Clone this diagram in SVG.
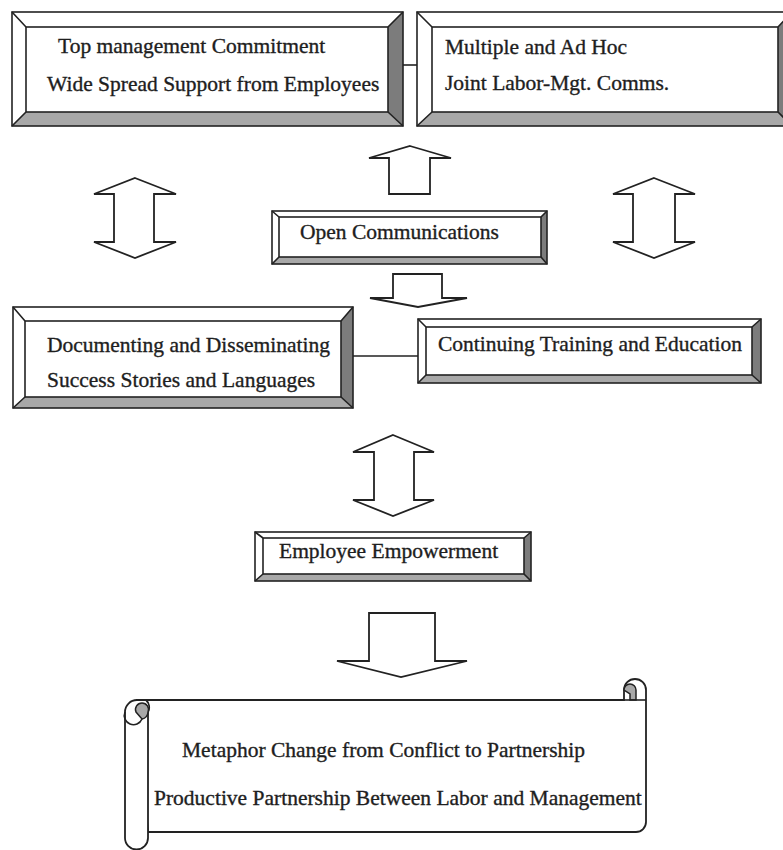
<svg xmlns="http://www.w3.org/2000/svg" width="783" height="850" viewBox="0 0 783 850">
  <style>
    .face { fill: #ffffff; stroke: #222; stroke-width: 1.6; }
    .lite { fill: #ffffff; }
    .dark { fill: #7c7c7c; }
    .mid { fill: #a8a8a8; }
    .edge { fill: none; stroke: #222; stroke-width: 1.6; }
    .txt { font-family: "Liberation Serif", "Times New Roman", serif; font-size: 21.5px; fill: #1e1e1e; stroke: #1e1e1e; stroke-width: 0.35; }
    .arrow { fill: #ffffff; stroke: #222; stroke-width: 1.8; stroke-linejoin: miter; }
    .link { stroke: #222; stroke-width: 1.6; fill: none; }
    .scroll { fill: #ffffff; stroke: #222; stroke-width: 1.8; }
    .curl { fill: #a8a8a8; stroke: #222; stroke-width: 1.5; }
  </style>

  <rect width="783" height="850" fill="#ffffff"/>

  <!-- connectors: plain links and block arrows -->
  <g id="connectors">
    <line class="link" x1="403" y1="65" x2="417" y2="65"/>
    <line class="link" x1="353" y1="356" x2="418" y2="356"/>
    <!-- up arrow into the top row -->
    <polygon class="arrow" points="410,146 451,158 430,158 430,194 389,194 389,158 369,158"/>
    <!-- side double arrows -->
    <polygon class="arrow" points="135,178 176,194 154,194 154,242 176,242 135,258 94,242 114,242 114,194 94,194"/>
    <polygon class="arrow" points="654,178 695,194 675,194 675,242 695,242 654,258 613,242 633,242 633,194 613,194"/>
    <!-- down arrow from Open Communications -->
    <polygon class="arrow" points="393,274 442,274 442,298 467,298 418,307 370,298 393,298"/>
    <!-- double arrow above Employee Empowerment -->
    <polygon class="arrow" points="393,435 434,452 414,452 414,500 434,500 393,516 353,500 374,500 374,452 353,452"/>
    <!-- down arrow to the scroll -->
    <polygon class="arrow" points="369,613 435,613 435,661 467,661 401,677 337,661 369,661"/>
  </g>

  <!-- Top management box -->
  <g id="top-management">
    <polygon class="lite" points="12,12 403,12 388,27 26,27"/>
    <polygon class="lite" points="12,12 26,27 26,112 12,126"/>
    <polygon class="dark" points="403,12 403,126 388,112 388,27"/>
    <polygon class="mid" points="12,126 403,126 388,112 26,112"/>
    <rect class="face" x="26" y="27" width="362" height="85"/>
    <rect class="edge" x="12" y="12" width="391" height="114"/>
    <path class="edge" d="M12,12 L26,27 M403,12 L388,27 M12,126 L26,112 M403,126 L388,112"/>
    <text class="txt" x="58" y="53">Top management Commitment</text>
    <text class="txt" x="47" y="91">Wide Spread Support from Employees</text>
  </g>

  <!-- Joint committees box -->
  <g id="joint-committees">
    <polygon class="lite" points="417,12 792,12 778,27 432,27"/>
    <polygon class="lite" points="417,12 432,27 432,112 417,126"/>
    <polygon class="dark" points="792,12 792,126 778,112 778,27"/>
    <polygon class="mid" points="417,126 792,126 778,112 432,112"/>
    <rect class="face" x="432" y="27" width="346" height="85"/>
    <rect class="edge" x="417" y="12" width="375" height="114"/>
    <path class="edge" d="M417,12 L432,27 M792,12 L778,27 M417,126 L432,112 M792,126 L778,112"/>
    <text class="txt" x="445" y="54">Multiple and Ad Hoc</text>
    <text class="txt" x="445" y="90">Joint Labor-Mgt. Comms.</text>
  </g>

  <!-- Open Communications box -->
  <g id="open-communications">
    <polygon class="lite" points="272,211 547,211 541,217 279,217"/>
    <polygon class="lite" points="272,211 279,217 279,257 272,264"/>
    <polygon class="dark" points="547,211 547,264 541,257 541,217"/>
    <polygon class="mid" points="272,264 547,264 541,257 279,257"/>
    <rect class="face" x="279" y="217" width="262" height="40"/>
    <rect class="edge" x="272" y="211" width="275" height="53"/>
    <path class="edge" d="M272,211 L279,217 M547,211 L541,217 M272,264 L279,257 M547,264 L541,257"/>
    <text class="txt" x="300" y="239">Open Communications</text>
  </g>

  <!-- Documenting box -->
  <g id="documenting">
    <polygon class="lite" points="13,307 353,307 341,321 25,321"/>
    <polygon class="lite" points="13,307 25,321 25,397 13,408"/>
    <polygon class="dark" points="353,307 353,408 341,397 341,321"/>
    <polygon class="mid" points="13,408 353,408 341,397 25,397"/>
    <rect class="face" x="25" y="321" width="316" height="76"/>
    <rect class="edge" x="13" y="307" width="340" height="101"/>
    <path class="edge" d="M13,307 L25,321 M353,307 L341,321 M13,408 L25,397 M353,408 L341,397"/>
    <text class="txt" x="47" y="352">Documenting and Disseminating</text>
    <text class="txt" x="47" y="387">Success Stories and Languages</text>
  </g>

  <!-- Continuing Training box -->
  <g id="continuing-training">
    <polygon class="lite" points="418,319 761,319 752,327 426,327"/>
    <polygon class="lite" points="418,319 426,327 426,375 418,383"/>
    <polygon class="dark" points="761,319 761,383 752,375 752,327"/>
    <polygon class="mid" points="418,383 761,383 752,375 426,375"/>
    <rect class="face" x="426" y="327" width="326" height="48"/>
    <rect class="edge" x="418" y="319" width="343" height="64"/>
    <path class="edge" d="M418,319 L426,327 M761,319 L752,327 M418,383 L426,375 M761,383 L752,375"/>
    <text class="txt" x="438" y="351">Continuing Training and Education</text>
  </g>

  <!-- Employee Empowerment box -->
  <g id="employee-empowerment">
    <polygon class="lite" points="255,532 531,532 524,538 263,538"/>
    <polygon class="lite" points="255,532 263,538 263,574 255,581"/>
    <polygon class="dark" points="531,532 531,581 524,574 524,538"/>
    <polygon class="mid" points="255,581 531,581 524,574 263,574"/>
    <rect class="face" x="263" y="538" width="261" height="36"/>
    <rect class="edge" x="255" y="532" width="276" height="49"/>
    <path class="edge" d="M255,532 L263,538 M531,532 L524,538 M255,581 L263,574 M531,581 L524,574"/>
    <text class="txt" x="279" y="558">Employee Empowerment</text>
  </g>

  <!-- Partnership scroll -->
  <g id="partnership-scroll">
    <!-- body with right roll -->
    <path class="scroll" d="M137,700 L624,700 L624,690 A11,11 0 0 1 646,690 L646,822 A10,10 0 0 1 636,832 L148,832 Z"/>
    <!-- right top curl -->
    <path class="curl" d="M624,690 A6,6 0 0 1 636,690 L636,700 L630,700 L630,694 Z"/>
    <line class="link" x1="624" y1="700" x2="646" y2="700"/>
    <!-- left roll -->
    <path class="scroll" d="M125,712 A12,12 0 0 1 137,700 L146,700 A10,10 0 0 1 148,712 L148,838 A11.5,11.5 0 0 1 125,838 Z"/>
    <path class="curl" d="M136,712 A6.5,6.5 0 1 1 148,712 A7,7 0 0 1 142,719 Z"/>
    <path class="edge" d="M125,712 A8.5,8.5 0 0 0 142,719"/>
    <text class="txt" x="182" y="757">Metaphor Change from Conflict to Partnership</text>
    <text class="txt" x="154" y="805">Productive Partnership Between Labor and Management</text>
  </g>
</svg>
